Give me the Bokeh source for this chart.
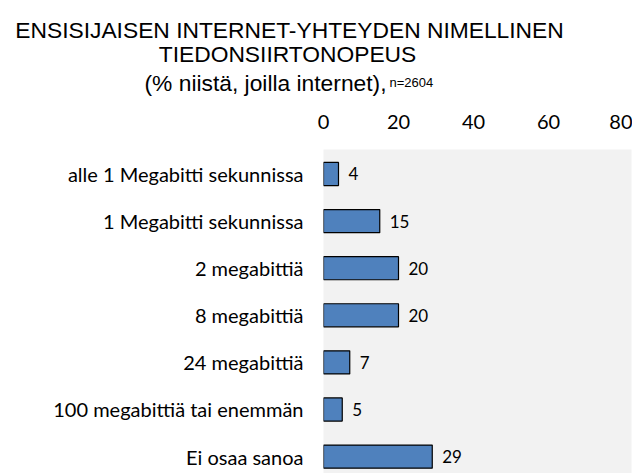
from bokeh.plotting import figure
from bokeh.models import ColumnDataSource, FixedTicker, Range1d
from bokeh.layouts import column
from bokeh.core.properties import value
from bokeh.embed import file_html
from bokeh.resources import INLINE

categories = [
    "alle 1 Megabitti sekunnissa",
    "1 Megabitti sekunnissa",
    "2 megabittiä",
    "8 megabittiä",
    "24 megabittiä",
    "100 megabittiä tai enemmän",
    "Ei osaa sanoa",
]
values = [4, 15, 20, 20, 7, 5, 29]
x_ticks = [0, 20, 40, 60, 80]
title_line1 = "ENSISIJAISEN INTERNET-YHTEYDEN NIMELLINEN"
title_line2 = "TIEDONSIIRTONOPEUS"
title_line3 = "(% niistä, joilla internet),"
title_n = "n=2604"

W = 632
TOP_H = 100
MAIN_H = 373

# ---- title block (a frame that covers its whole canvas, pixel-like units, y down)
pt = figure(width=W, height=TOP_H, output_backend="svg", toolbar_location=None,
            x_range=Range1d(0, W), y_range=Range1d(TOP_H, 0),
            x_axis_type=None, y_axis_type=None,
            min_border_left=0, min_border_right=0, min_border_top=0, min_border_bottom=0)
pt.frame_align = False
pt.outline_line_color = None
pt.grid.visible = False
pt.background_fill_color = "white"
pt.border_fill_color = "white"

def title_text(txt, x, y, size, align):
    pt.text(x=[x], y=[y], text=[txt], text_align=align, text_baseline="alphabetic",
            text_font=value("Liberation Sans"), text_font_size=size, text_color="black")

cx = 289
title_text(title_line1, cx, 29, "22.8px", "center")
title_text(title_line2, cx - 2, 53, "22.8px", "center")
title_text(title_line3, 386, 82, "22.8px", "right")
title_text(title_n, 389, 82, "13px", "left")

# ---- main chart
ypos = list(range(len(categories)))
src = ColumnDataSource(dict(y=ypos, v=values, lbl=[str(v) for v in values]))

p = figure(width=W, height=MAIN_H, output_backend="svg", toolbar_location=None,
           x_axis_location="above",
           x_range=Range1d(0, 82.13), y_range=Range1d(6.359, -0.52),
           min_border_left=323, min_border_right=1, min_border_top=49, min_border_bottom=0)
p.frame_align = False
p.background_fill_color = "#f2f2f2"
p.border_fill_color = "white"
p.outline_line_color = None
p.xgrid.grid_line_color = None
p.ygrid.grid_line_color = None

p.hbar(y="y", right="v", left=0, height=0.49, source=src,
       fill_color="#4F81BD", line_color="black", line_width=1.2)
p.text(x="v", y="y", text="lbl", source=src, x_offset=10,
       text_align="left", text_baseline="middle",
       text_font=value("Lato"), text_font_size="17px", text_color="black")

xa = p.xaxis[0]
xa.ticker = FixedTicker(ticks=x_ticks)
xa.major_label_overrides = {t: str(t) for t in x_ticks}
xa.axis_line_color = None
xa.major_tick_line_color = None
xa.minor_tick_line_color = None
xa.major_tick_out = 0
xa.major_tick_in = 0
xa.major_label_standoff = 21
xa.major_label_text_font = "Lato"
xa.major_label_text_font_size = "20px"
xa.major_label_text_color = "black"

ya = p.yaxis[0]
ya.ticker = FixedTicker(ticks=ypos)
ya.major_label_overrides = {i: c for i, c in zip(ypos, categories)}
ya.axis_line_color = None
ya.major_tick_line_color = None
ya.minor_tick_line_color = None
ya.major_tick_out = 0
ya.major_tick_in = 0
ya.major_label_standoff = 20
ya.major_label_text_font = "Lato"
ya.major_label_text_font_size = "20px"
ya.major_label_text_color = "black"

layout = column(pt, p, spacing=0)
open("out.html", "w").write(file_html(layout, INLINE))
